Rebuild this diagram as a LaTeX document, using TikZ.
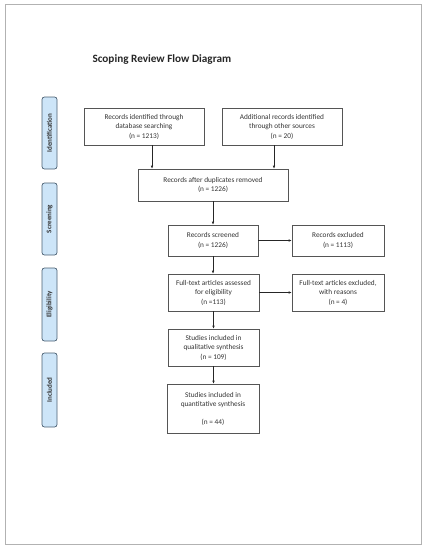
\documentclass[tikz,border=0pt]{standalone}
\usepackage{fontspec}
\setmainfont{Carlito}
\usetikzlibrary{arrows.meta}
\definecolor{boxline}{HTML}{555555}
\definecolor{txt}{HTML}{333333}
\definecolor{phasefill}{HTML}{CDE5F8}
\definecolor{phaseline}{HTML}{4A5F72}
\begin{document}
\begin{tikzpicture}[x=1pt,y=-1pt,
  flowbox/.style={draw=boxline,line width=0.6pt,rectangle,inner sep=0pt,align=center,
     font=\fontsize{7.3}{9.5}\selectfont,text=txt},
  phase/.style={draw=phaseline,fill=phasefill,line width=0.7pt,rounded corners=2.5pt,rotate=90,
     inner sep=0pt,minimum height=15pt,font=\fontsize{7}{8}\selectfont\bfseries,text=txt},
  arr/.style={-{Latex[length=3pt,width=2.6pt]},line width=0.6pt,black!85}]
\useasboundingbox (0,0) rectangle (426,550);
\draw[draw=black!30,line width=0.7pt] (5,4) rectangle (421,544);
\node[anchor=west,font=\fontsize{11.2}{13}\selectfont\bfseries,text=black!85] (title) at (89,60) {Scoping Review Flow Diagram};
% phases
\node[phase,minimum width=72pt] (p1) at (49.5,133) {Identification};
\node[phase,minimum width=72pt] (p2) at (49.5,219) {Screening};
\node[phase,minimum width=73pt] (p3) at (49.5,304.5) {Eligibility};
\node[phase,minimum width=74pt] (p4) at (49.5,390) {Included};
% boxes
\node[flowbox,minimum width=120pt,minimum height=37pt] (A) at (144,126.5) {Records identified through\\database searching\\(n = 1213)};
\node[flowbox,minimum width=120pt,minimum height=37pt] (B) at (282,126.5) {Additional records identified\\through other sources\\(n = 20)};
\node[flowbox,minimum width=150pt,minimum height=32pt] (C) at (213,185) {Records after duplicates removed\\(n = 1226)};
\node[flowbox,minimum width=90pt,minimum height=31pt] (D) at (213,240.5) {Records screened\\(n =  1226)};
\node[flowbox,minimum width=92pt,minimum height=31pt] (E) at (338,240.5) {Records excluded\\(n = 1113)};
\node[flowbox,minimum width=91pt,minimum height=37pt] (F) at (213.5,292.5) {Full-text articles assessed\\for eligibility\\(n =113)};
\node[flowbox,minimum width=92pt,minimum height=37pt] (G) at (338,292.5) {Full-text articles excluded,\\with reasons\\(n = 4)};
\node[flowbox,minimum width=91pt,minimum height=37pt] (H) at (213.5,347.5) {Studies included in\\qualitative synthesis\\(n = 109)};
\node[flowbox,minimum width=92pt,minimum height=49pt] (I) at (213,408.5) {Studies included in\\quantitative synthesis\\[8pt](n =  44)};
% arrows
\draw[arr] ([xshift=8pt]A.south) -- ([xshift=8pt]A.south |- C.north);
\draw[arr] ([xshift=-8pt]B.south) -- ([xshift=-8pt]B.south |- C.north);
\draw[arr] (C.south) -- (D.north);
\draw[arr] (D.east) -- (E.west);
\draw[arr] (D.south) -- (D.south |- F.north);
\draw[arr] (F.east) -- (G.west);
\draw[arr] (F.south) -- (H.north);
\draw[arr] (H.south) -- (H.south |- I.north);
\end{tikzpicture}
\end{document}
